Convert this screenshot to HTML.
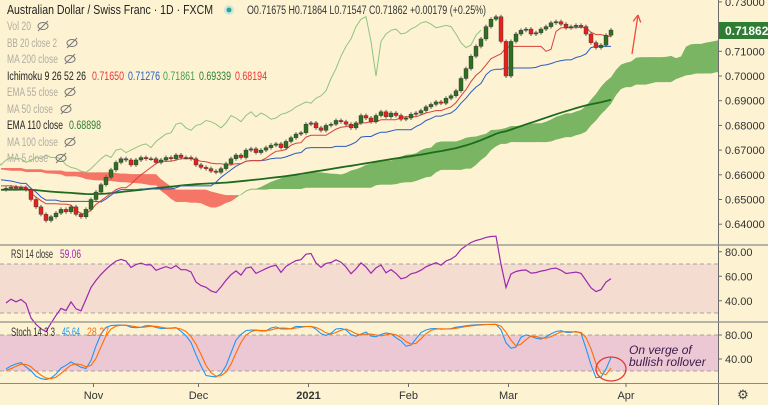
<!DOCTYPE html>
<html><head><meta charset="utf-8"><style>
body{margin:0;background:#fdf3d3;}
svg{display:block;font-family:"Liberation Sans",sans-serif;}
</style></head><body>
<svg id="c" width="768" height="405" xmlns="http://www.w3.org/2000/svg">
<rect width="768" height="405" fill="#fdf3d3"/>
<g id="price"></g>
<g id="rsi"></g>
<g id="stoch"></g>
<g id="axes"></g>
<g id="legend" font-size="11.5"></g>
</svg>
<script>
const histCloses=[0.6600,0.6610,0.6620,0.6615,0.6630,0.6640,0.6635,0.6650,0.6660,0.6655,0.6645,0.6640,0.6650,0.6660,0.6665,0.6650,0.6640,0.6630,0.6620,0.6610,0.6600,0.6590,0.6595,0.6605,0.6610,0.6620,0.6615,0.6610,0.6600,0.6590,0.6580,0.6585,0.6590,0.6580,0.6570,0.6575,0.6580,0.6570,0.6560,0.6565,0.6570,0.6560,0.6555,0.6560,0.6570,0.6565,0.6555,0.6560,0.6550,0.6545,0.6550,0.6540];
const closes=[0.6545,0.6550,0.6545,0.6548,0.6540,0.6500,0.6470,0.6440,0.6415,0.6430,0.6445,0.6460,0.6450,0.6470,0.6440,0.6430,0.6460,0.6500,0.6530,0.6560,0.6590,0.6620,0.6650,0.6665,0.6660,0.6640,0.6660,0.6670,0.6665,0.6665,0.6650,0.6660,0.6670,0.6665,0.6680,0.6670,0.6670,0.6665,0.6640,0.6630,0.6625,0.6615,0.6610,0.6625,0.6645,0.6665,0.6680,0.6670,0.6700,0.6705,0.6690,0.6700,0.6710,0.6720,0.6725,0.6710,0.6735,0.6750,0.6765,0.6770,0.6805,0.6810,0.6790,0.6780,0.6800,0.6805,0.6820,0.6815,0.6805,0.6790,0.6810,0.6840,0.6830,0.6815,0.6840,0.6855,0.6835,0.6850,0.6840,0.6825,0.6830,0.6845,0.6850,0.6860,0.6875,0.6885,0.6895,0.6890,0.6910,0.6920,0.6940,0.6990,0.7030,0.7080,0.7120,0.7150,0.7200,0.7230,0.7240,0.7140,0.7000,0.7140,0.7170,0.7185,0.7190,0.7170,0.7175,0.7190,0.7200,0.7215,0.7220,0.7210,0.7195,0.7200,0.7205,0.7200,0.7170,0.7135,0.7115,0.7125,0.7165,0.7186];
const priceTicks=[0.64,0.65,0.66,0.67,0.68,0.69,0.70,0.71,0.73];
const rsiTicks=[80,60,40];
const stochTicks=[80,40];
const monthLabels=["Nov","Dec","2021","Feb","Mar","Apr"];
const monthBars=[17.5,38.5,60.5,80.5,100.5,124];
const lastPrice=0.71862;

const NS="http://www.w3.org/2000/svg";
function el(p,t,a){const e=document.createElementNS(NS,t);for(const k in a)e.setAttribute(k,a[k]);p.appendChild(e);return e;}
const X0=6,DX=5,PR=718;
const bx=i=>X0+DX*i;
const py=p=>76+(0.70-p)*2470;
const ry=v=>264+(70-v)*(49/40);
const sy=v=>335+(80-v)*0.6;

const all=histCloses.concat(closes), H=histCloses.length;
const WICK=0.0008;
const opens=all.map((c,i)=>i?all[i-1]:c);
const highs=all.map((c,i)=>Math.max(c,opens[i])+WICK);
const lows=all.map((c,i)=>Math.min(c,opens[i])-WICK);
function mid(n,i){let hi=-1,lo=9;for(let k=Math.max(0,i-n+1);k<=i;k++){hi=Math.max(hi,highs[k]);lo=Math.min(lo,lows[k]);}return (hi+lo)/2;}
const tenkan=all.map((_,i)=>mid(9,i)), kijun=all.map((_,i)=>mid(26,i));
const spanA=all.map((_,i)=>(tenkan[i]+kijun[i])/2), spanB=all.map((_,i)=>mid(52,i));
let ema=[];all.forEach((c,i)=>{ema.push(i?ema[i-1]+(c-ema[i-1])*2/111:0.646);});

const P=document.getElementById('price');
const clip=el(P,'clipPath',{id:'pc'});el(clip,'rect',{x:0,y:0,width:PR,height:244});
const G=el(P,'g',{'clip-path':'url(#pc)'});
for(let j=0;j<closes.length+26;j++){
  const s=j-26+H; if(s<1||s>=all.length) continue;
  const a0=spanA[s-1],b0=spanB[s-1],a1=spanA[s],b1=spanB[s];
  const x0=bx(j-1),x1=bx(j);
  const f=el(G,'polygon',{points:`${x0},${py(a0)} ${x1},${py(a1)} ${x1},${py(b1)} ${x0},${py(b0)}`,fill:(a1>=b1?'#6aae55':'#f4685a'),'fill-opacity':'0.9',stroke:'none'});
  
  
}
function line(arr,off,color,w,name){let pts=[];for(let j=-1;j<closes.length+30;j++){const s=j-off+H;if(s<0||s>=all.length)continue;pts.push(bx(j)+','+py(arr[s]).toFixed(1));}
  const l=el(G,'polyline',{points:pts.join(' '),fill:'none',stroke:color,'stroke-width':w});
  
  }
(function(){let pts=[];for(let i=0;i<closes.length;i++){const j=i-26;pts.push(bx(j)+','+py(closes[i]).toFixed(1));}
const l=el(G,'polyline',{points:pts.join(' '),fill:'none',stroke:'#8fc47f','stroke-width':1});

})();
line(ema,0,'#1e6b1e',1.8,'ema-110-line');
line(kijun,0,'#2a5bc0',1,'kijun-line');
line(tenkan,0,'#d9403a',1,'tenkan-line');
for(let i=0;i<closes.length;i++){
  const s=i+H,o=opens[s],c=closes[i],up=c>=o,col=up?'#2e6f22':'#e8201c';
  const x=bx(i);
  const w=el(G,'line',{x1:x,x2:x,y1:py(highs[s]),y2:py(lows[s]),stroke:'#555','stroke-width':1});
  
  
  const yt=py(Math.max(o,c)),yb=py(Math.min(o,c));
  const r=el(G,'rect',{x:x-2,y:yt,width:4,height:Math.max(1,yb-yt),fill:col,stroke:'#333','stroke-width':0.4});
  
  
}
function arrow(x1,y1,x2,y2,name){const g=el(P,'g',{stroke:'#f04a40','stroke-width':1.3,fill:'none'});

el(g,'line',{x1,y1,x2,y2});const a=Math.atan2(y2-y1,x2-x1);
[0.5,-0.5].forEach(d=>el(g,'line',{x1:x2,y1:y2,x2:x2-8*Math.cos(a+d),y2:y2-8*Math.sin(a+d)}));}
arrow(632,54,638,15,'price-up-arrow');
arrow(632,303,639,272,'rsi-up-arrow');
const tag=el(P,'rect',{x:719,y:22,width:49,height:17,fill:'#2e7d32'});

const tt=el(P,'text',{x:725,y:35,fill:'#fff','font-size':12,'font-weight':'bold'});tt.textContent=lastPrice.toFixed(5);


const R=document.getElementById('rsi');
el(R,'rect',{x:0,y:ry(70),width:PR,height:ry(30)-ry(70),fill:'#f5dcd0'});
[70,30].forEach(v=>el(R,'line',{x1:0,x2:PR,y1:ry(v),y2:ry(v),stroke:'#a8a0a0','stroke-dasharray':'4 3'}));
let rs=[];(function(){let ag=0,al=0;for(let i=1;i<all.length;i++){const d=all[i]-all[i-1];const g=Math.max(d,0),l=Math.max(-d,0);if(i<=14){ag+=g/14;al+=l/14;}else{ag=(ag*13+g)/14;al=(al*13+l)/14;}rs[i]=al===0?100:100-100/(1+ag/al);}})();
(function(){let pts=[];for(let i=0;i<closes.length;i++)pts.push(bx(i)+','+ry(rs[i+H]).toFixed(1));
const l=el(R,'polyline',{points:pts.join(' '),fill:'none',stroke:'#9c27b0','stroke-width':1.2});
})();

const S=document.getElementById('stoch');
el(S,'rect',{x:0,y:sy(80),width:PR,height:sy(20)-sy(80),fill:'#ecc8d4'});
[80,20].forEach(v=>el(S,'line',{x1:0,x2:PR,y1:sy(v),y2:sy(v),stroke:'#a8a0a0','stroke-dasharray':'4 3'}));
let raw=all.map((c,i)=>{let hi=-1,lo=9;for(let k=Math.max(0,i-13);k<=i;k++){hi=Math.max(hi,highs[k]);lo=Math.min(lo,lows[k]);}return 100*(c-lo)/(hi-lo);});
const sma=(a,n)=>a.map((_,i)=>{let s=0,c=0;for(let k=Math.max(0,i-n+1);k<=i;k++){s+=a[k];c++;}return s/c;});
const K=sma(raw,3),D=sma(K,3);
[[K,'#2196f3','stoch-k-line'],[D,'#ff6d00','stoch-d-line']].forEach(([a,c,n])=>{let pts=[];for(let i=0;i<closes.length;i++)pts.push(bx(i)+','+sy(a[i+H]).toFixed(1));
const l=el(S,'polyline',{points:pts.join(' '),fill:'none',stroke:c,'stroke-width':1.1});
});
const ell=el(S,'ellipse',{cx:611,cy:369,rx:15,ry:12,fill:'none',stroke:'#e53935','stroke-width':1.3});

[['On verge of',354],['bullish rollover',366]].forEach(([t,y])=>{const e=el(S,'text',{x:629,y,fill:'#3a1a4a','font-size':12,'font-style':'italic'});e.textContent=t;
});

const A=document.getElementById('axes');
el(A,'line',{x1:PR+0.5,x2:PR+0.5,y1:0,y2:405,stroke:'#6b6b6b'});
[245,322].forEach(y=>el(A,'line',{x1:0,x2:768,y1:y,y2:y,stroke:'#8a8a8a','stroke-width':1.2}));
el(A,'line',{x1:0,x2:768,y1:383.5,y2:383.5,stroke:'#8a8a8a'});
function tick(y,txt,name){el(A,'line',{x1:PR,x2:PR+4,y1:y,y2:y,stroke:'#6b6b6b'});const t=el(A,'text',{x:725,y:y+4,'font-size':11,fill:'#333'});t.textContent=txt;
}
priceTicks.forEach(p=>tick(py(p),p.toFixed(5),'price-tick-label'));
rsiTicks.forEach(v=>tick(ry(v),v.toFixed(2),'rsi-tick-label'));
stochTicks.forEach(v=>tick(sy(v),v.toFixed(2),'stoch-tick-label'));
monthLabels.forEach((m,i)=>{const x=bx(monthBars[i]);el(A,'line',{x1:x,x2:x,y1:383,y2:387,stroke:'#6b6b6b'});
const t=el(A,'text',{x,y:399,'font-size':11,fill:'#333','text-anchor':'middle','font-weight':m==='2021'?'bold':'normal'});t.textContent=m;
});
const gear=el(A,'text',{x:743,y:399,'font-size':13,fill:'#444','text-anchor':'middle'});gear.textContent='⚙';


const L=document.getElementById('legend');
function txt(x,y,s,c,name,w,extra){const a=Object.assign({x,y,fill:c},extra||{});if(w){a.textLength=w;a.lengthAdjust='spacingAndGlyphs';}const t=el(L,'text',a);t.textContent=s;return t;}
txt(7,14,'Australian Dollar / Swiss Franc · 1D · FXCM','#222','chart-title',206,{'font-size':12.5});
el(L,'circle',{cx:229,cy:10,r:5,fill:'#cfe6da'});el(L,'circle',{cx:229,cy:10,r:2.5,fill:'#26a69a'});
txt(247,14,'O0.71675  H0.71864  L0.71547  C0.71862  +0.00179 (+0.25%)','#333','ohlc-values',239,{'xml:space':'preserve'});
const gray='#b0aca0';
const rows=[['Vol 20',26,24,43],['BB 20 close 2',43,50,72],['MA 200 close',59,51,70],['EMA 55 close',92,51,70],['MA 50 close',109,46,66],['MA 100 close',142,51,70],['MA 5 close',158,41,61]];
rows.forEach(([s,y,w,ex])=>{txt(7,y+4,s,gray,'hidden-indicator-label',w);
const e=el(L,'g',{stroke:'#777',fill:'none','stroke-width':1});
el(e,'ellipse',{cx:ex,cy:y,rx:5,ry:3.5});el(e,'line',{x1:ex-5,y1:y+5,x2:ex+5,y2:y-5});});
txt(7,80,'Ichimoku 9 26 52 26','#222','ichimoku-label',79);
[['0.71650','#e53935',92],['0.71276','#2a5bc0',128],['0.71861','#43a047',163],['0.69339','#2e7d32',199],['0.68194','#e53935',235]].forEach(([v,c,x])=>txt(x,80,v,c,'ichimoku-value',32));
txt(7,129,'EMA 110 close','#222','ema-110-label',56);txt(69,129,'0.68898','#2e7d32','ema-110-value',32);
txt(11,258,'RSI 14 close','#333','rsi-label',42);txt(60,258,'59.06','#9c27b0','rsi-value',21);
txt(11,336,'Stoch 14 3 3','#333','stoch-label',44);txt(62,336,'45.64','#2196f3','stoch-k-value',18);txt(87,336,'28.27','#ff6d00','stoch-d-value',22);
</script>
</body></html>
